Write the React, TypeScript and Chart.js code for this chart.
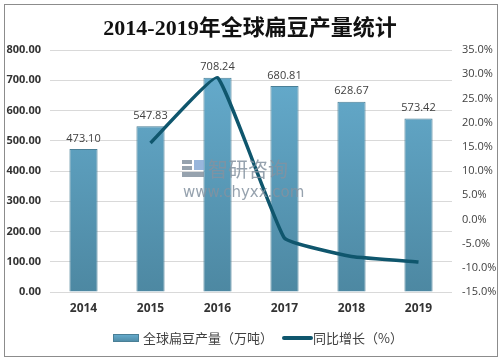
import React, { useEffect, useRef } from "react";
import { Chart, registerables } from "chart.js";

Chart.register(...registerables);

const categories = ["2014", "2015", "2016", "2017", "2018", "2019"];
const production = [473.1, 547.83, 708.24, 680.81, 628.67, 573.42];
const growth = [null, 15.8, 29.28, -3.87, -7.66, -8.79];
const titleText = "2014-2019年全球扁豆产量统计";
const barLabel = "全球扁豆产量（万吨）";
const lineLabel = "同比增长（%）";

const CJK = '"Noto Sans CJK SC", "Liberation Sans", sans-serif';

export default function App() {
  const ref = useRef<HTMLCanvasElement>(null);
  useEffect(() => {
    const canvas = ref.current!;
    const ctx = canvas.getContext("2d")!;

    const decor = {
      id: "decor",
      beforeDraw(chart: any) {
        const c = chart.ctx;
        c.save();
        c.fillStyle = "#ffffff";
        c.fillRect(0, 0, chart.width, chart.height);
        c.restore();
      },
      afterDatasetsDraw(chart: any) {
        const c = chart.ctx;
        c.save();
        const meta = chart.getDatasetMeta(0);
        c.font = '11px "Open Sans", "DejaVu Sans", sans-serif';
        c.fillStyle = "#404040";
        c.textAlign = "center";
        c.textBaseline = "bottom";
        meta.data.forEach((el: any, i: number) => {
          c.fillText(production[i].toFixed(2), el.x, el.y - 5);
        });
        c.restore();
      },
      afterDraw(chart: any) {
        const c = chart.ctx;
        c.save();
        // frame
        c.strokeStyle = "#8c8c8c";
        c.lineWidth = 1;
        c.strokeRect(4.5, 4.5, 493, 352);
        // title
        c.fillStyle = "#111111";
        c.textAlign = "center";
        c.textBaseline = "middle";
        c.font = 'bold 22px "Liberation Serif", "Noto Sans CJK SC", serif';
        c.fillText(titleText, 250, 29);
        // watermark
        c.globalAlpha = 0.85;
        c.fillStyle = "#8492a0";
        c.font = '20px ' + CJK;
        c.textAlign = "left";
        c.fillText("智研咨询", 208, 169);
        c.font = '15px "DejaVu Sans", sans-serif';
        c.fillText("www.chyxx.com", 183, 193);
        c.fillRect(182, 160, 10, 4);
        c.fillRect(182, 166, 10, 4);
        c.fillRect(182, 172, 22, 5);
        c.fillStyle = "#86a9d6";
        c.fillRect(194, 160, 10, 10);
        c.globalAlpha = 1;
        // legend
        const g = c.createLinearGradient(0, 334, 0, 342);
        g.addColorStop(0, "#67aed0");
        g.addColorStop(1, "#4e8aa4");
        c.fillStyle = g;
        c.fillRect(113, 334, 26, 8);
        c.strokeStyle = "#4a7f96";
        c.lineWidth = 1;
        c.strokeRect(113.5, 334.5, 25, 7);
        c.fillStyle = "#404040";
        c.font = '13px ' + CJK;
        c.textBaseline = "middle";
        c.fillText(barLabel, 143, 338);
        c.strokeStyle = "#0f566d";
        c.lineWidth = 4;
        c.lineCap = "round";
        c.beginPath();
        c.moveTo(284, 338);
        c.lineTo(311, 338);
        c.stroke();
        c.fillText(lineLabel, 313, 338);
        c.restore();
      },
    };

    const chart = new Chart(ctx, {
      type: "bar",
      data: {
        labels: categories,
        datasets: [
          {
            type: "bar",
            label: barLabel,
            data: production,
            yAxisID: "y",
            order: 2,
            backgroundColor: (context: any) => {
              const ca = context.chart.chartArea;
              if (!ca) return "#5a9cbc";
              const gr = context.chart.ctx.createLinearGradient(0, ca.top, 0, ca.bottom);
              gr.addColorStop(0, "#67aed0");
              gr.addColorStop(1, "#4d88a2");
              return gr;
            },
            borderColor: "#4a7f96",
            borderWidth: 1,
            categoryPercentage: 1,
            barPercentage: 0.42,
          },
          {
            type: "line",
            label: lineLabel,
            data: growth,
            yAxisID: "y1",
            order: 1,
            borderColor: "#0f566d",
            borderWidth: 3.5,
            pointRadius: 0,
            tension: 0.1,
            fill: false,
          },
        ],
      },
      options: {
        animation: false,
        responsive: false,
        layout: { padding: { top: 50, left: 0, right: 0, bottom: 0 } },
        plugins: {
          legend: { display: false },
          title: { display: false },
          tooltip: { enabled: false },
        },
        scales: {
          x: {
            grid: { display: false, drawTicks: false },
            border: { display: false },
            ticks: {
              color: "#333333",
              font: { family: '"Open Sans", "DejaVu Sans", sans-serif', size: 12, weight: "bold" },
              padding: 9,
            },
            afterFit: (s: any) => {
              s.height = 70;
            },
          },
          y: {
            position: "left",
            min: 0,
            max: 800,
            ticks: {
              stepSize: 100,
              color: "#333333",
              font: { family: '"Open Sans", "DejaVu Sans", sans-serif', size: 11, weight: "bold" },
              padding: 9,
              callback: (v: any) => Number(v).toFixed(2),
            },
            grid: { color: "#d9d9d9", drawTicks: false },
            border: { display: false },
            afterFit: (s: any) => {
              s.width = 50;
            },
          },
          y1: {
            position: "right",
            min: -15,
            max: 35,
            ticks: {
              stepSize: 5,
              color: "#404040",
              font: { family: '"Open Sans", "DejaVu Sans", sans-serif', size: 11 },
              padding: 10,
              callback: (v: any) => Number(v).toFixed(1) + "%",
            },
            grid: { display: false, drawTicks: false },
            border: { display: false },
            afterFit: (s: any) => {
              s.width = 51;
            },
          },
        },
      },
      plugins: [decor],
    } as any);
    return () => chart.destroy();
  }, []);
  return (
    <div style={{ position: "fixed", left: 0, top: 0, width: 503, height: 362 }}>
      <canvas ref={ref} width={503} height={362} style={{ width: 503, height: 362 }} />
    </div>
  );
}
